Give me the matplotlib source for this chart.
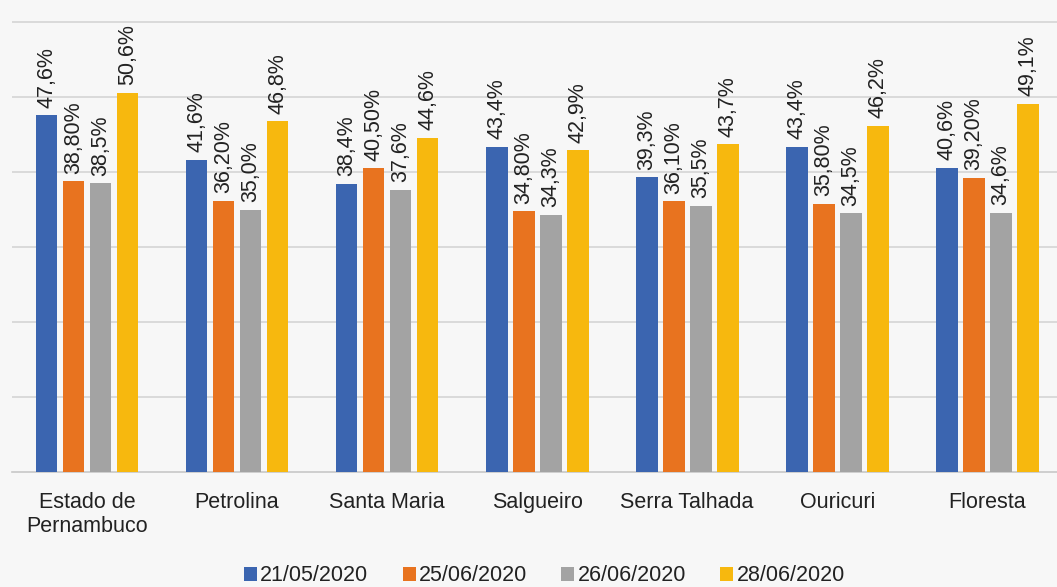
import matplotlib.pyplot as plt
import numpy as np

# Categorias (municípios) e séries por data
categorias = ['Estado de\nPernambuco', 'Petrolina', 'Santa Maria', 'Salgueiro',
              'Serra Talhada', 'Ouricuri', 'Floresta']
datas = ['21/05/2020', '25/06/2020', '26/06/2020', '28/06/2020']

v_21_05 = [47.6, 41.6, 38.4, 43.4, 39.3, 43.4, 40.6]
v_25_06 = [38.8, 36.2, 40.5, 34.8, 36.1, 35.8, 39.2]
v_26_06 = [38.5, 35.0, 37.6, 34.3, 35.5, 34.5, 34.6]
v_28_06 = [50.6, 46.8, 44.6, 42.9, 43.7, 46.2, 49.1]

series = [v_21_05, v_25_06, v_26_06, v_28_06]
casas = [1, 2, 1, 1]  # casas decimais usadas em cada série nos rótulos
cores = ['#3B65B0', '#E8731F', '#A3A3A3', '#F7B80E']

plt.rcParams['font.family'] = ['Liberation Sans', 'DejaVu Sans']

fundo = '#F7F7F7'
fig = plt.figure(figsize=(10.57, 5.87), dpi=100, facecolor=fundo)
ax = fig.add_axes([12 / 1057, (587 - 472) / 587, 1 - 12 / 1057 + 0.005, 472 / 587])
ax.set_facecolor(fundo)

x = np.arange(len(categorias))
passo = 0.18
largura = 0.145

for i, (vals, cor, nome) in enumerate(zip(series, cores, datas)):
    pos = x + (i - 1.5) * passo
    ax.bar(pos, vals, width=largura, color=cor, label=nome, zorder=3)
    for xp, v in zip(pos, vals):
        rotulo = f'{v:.{casas[i]}f}%'.replace('.', ',')
        ax.text(xp, v + 1.0, rotulo, rotation=90, ha='center', va='bottom',
                fontsize=15.5, color='#222222', zorder=4)

ax.set_xlim(-0.5, len(categorias) - 0.5)
ax.set_ylim(0, 472 / 7.5)
ax.set_yticks(np.arange(10, 61, 10))
ax.yaxis.grid(True, color='#D5D5D5', linewidth=1.2, zorder=0)
ax.tick_params(axis='y', left=False, labelleft=False)
ax.tick_params(axis='x', bottom=False, labelsize=15.5, pad=11, colors='#222222')
ax.set_xticks(x)
ax.set_xticklabels(categorias)

for lado in ['top', 'right', 'left']:
    ax.spines[lado].set_visible(False)
ax.spines['bottom'].set_color('#C8C8C8')
ax.spines['bottom'].set_linewidth(1.2)

handles, labels = ax.get_legend_handles_labels()
fig.legend(handles, labels, loc='lower center', bbox_to_anchor=(0.515, -0.032), ncol=4,
           frameon=False, fontsize=15.5, handlelength=0.6, handleheight=0.6,
           handletextpad=0.15, columnspacing=1.6, labelcolor='#222222')

fig.savefig('out.png', dpi=100, facecolor=fundo)
